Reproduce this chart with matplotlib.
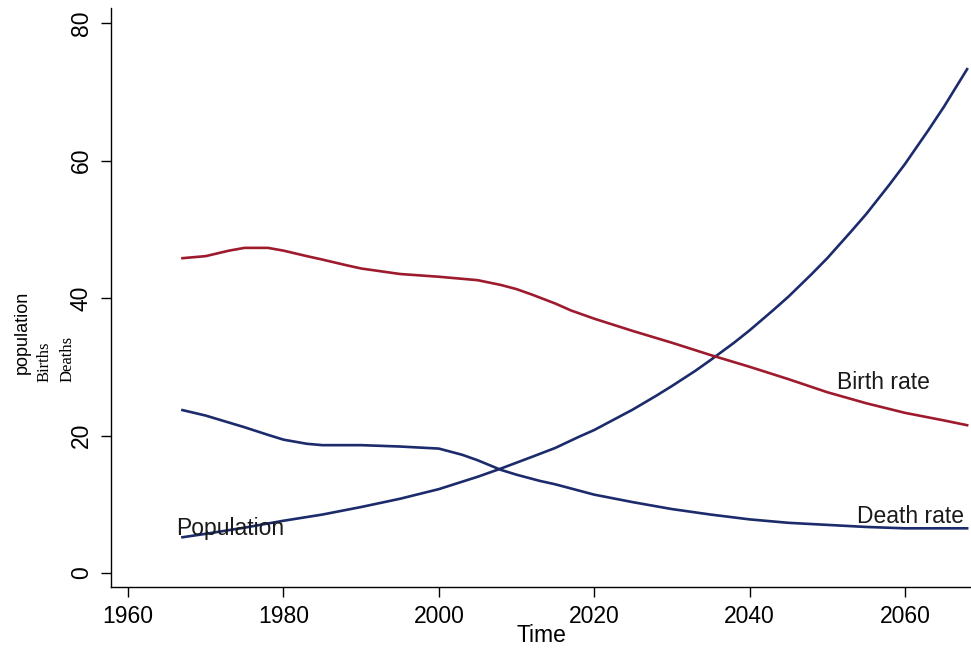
import matplotlib
matplotlib.use("Agg")
import matplotlib.pyplot as plt

plt.rcParams['font.family'] = ['Liberation Sans', 'DejaVu Sans']

# values
pop_years = [1967, 1970, 1975, 1980, 1985, 1990, 1995, 2000, 2005, 2008, 2012, 2015,
             2018, 2020, 2023, 2025, 2028, 2030, 2033, 2035, 2038, 2040, 2043, 2045,
             2048, 2050, 2053, 2055, 2058, 2060, 2063, 2065, 2068]
population = [5.2, 5.7, 6.6, 7.6, 8.5, 9.6, 10.8, 12.2, 14.0, 15.2, 16.9, 18.2,
              19.8, 20.8, 22.6, 23.8, 25.8, 27.2, 29.4, 31.0, 33.5, 35.3, 38.2, 40.2,
              43.5, 45.8, 49.6, 52.2, 56.5, 59.5, 64.4, 67.8, 73.3]

birth_years = [1967, 1970, 1973, 1975, 1978, 1980, 1983, 1985, 1988, 1990, 1995, 2000,
               2005, 2008, 2010, 2012, 2015, 2017, 2020, 2025, 2030, 2035, 2040, 2045,
               2050, 2055, 2060, 2065, 2068]
birth_rate = [45.8, 46.1, 46.9, 47.3, 47.3, 46.9, 46.1, 45.6, 44.8, 44.3, 43.5, 43.1,
              42.6, 41.9, 41.3, 40.5, 39.2, 38.2, 37.0, 35.2, 33.5, 31.7, 30.0, 28.2,
              26.3, 24.7, 23.3, 22.2, 21.5]

death_years = [1967, 1970, 1975, 1978, 1980, 1983, 1985, 1990, 1995, 2000, 2003, 2005,
               2008, 2010, 2013, 2015, 2020, 2025, 2030, 2035, 2040, 2045, 2050, 2055,
               2060, 2068]
death_rate = [23.7, 22.9, 21.2, 20.1, 19.4, 18.8, 18.6, 18.6, 18.4, 18.1, 17.2, 16.4,
              15.0, 14.3, 13.4, 12.9, 11.4, 10.3, 9.3, 8.5, 7.8, 7.3, 7.0, 6.7,
              6.5, 6.5]

x_ticks = [1960, 1980, 2000, 2020, 2040, 2060]
y_ticks = [0, 20, 40, 60, 80]

navy = '#1c2b6b'
maroon = '#9e1b2e'
txt = '#1a1a1a'

fig = plt.figure(figsize=(9.71, 6.49), dpi=100)
ax = fig.add_axes([0.1143, 0.0955, 0.8857, 0.8922])

ax.plot(pop_years, population, color=navy, lw=1.9)
ax.plot(birth_years, birth_rate, color=maroon, lw=1.9)
ax.plot(death_years, death_rate, color=navy, lw=1.9)

ax.text(2051.2, 26.8, 'Birth rate', fontsize=16.5, color=txt, va='baseline')
ax.text(2053.8, 7.3, 'Death rate', fontsize=16.5, color=txt, va='baseline')
ax.text(1966.2, 5.5, 'Population', fontsize=16.5, color=txt, va='baseline')

ax.set_xlim(1957.8, 2068.5)
ax.set_ylim(-2.04, 82.2)
ax.set_xticks(x_ticks)
ax.set_yticks(y_ticks)
ax.tick_params(axis='both', length=7, width=1, pad=6, labelsize=16.5, colors='black')
for lab in ax.get_yticklabels():
    lab.set_rotation(90)
    lab.set_va('center')

for s in ['top', 'right']:
    ax.spines[s].set_visible(False)
for s in ['left', 'bottom']:
    ax.spines[s].set_linewidth(1.0)

ax.set_xlabel('Time', fontsize=16.5, labelpad=-3)

# stacked y-axis title
fig.text(22 / 971, 1 - 374 / 649, 'population', rotation=90, ha='center', va='bottom', fontsize=13)
fig.text(45 / 971, 1 - 382 / 649, 'Births', rotation=90, ha='center', va='bottom', fontsize=12,
         family=['Liberation Serif'])
fig.text(68 / 971, 1 - 382 / 649, 'Deaths', rotation=90, ha='center', va='bottom', fontsize=12,
         family=['Liberation Serif'])

fig.savefig('out.png', dpi=100)
